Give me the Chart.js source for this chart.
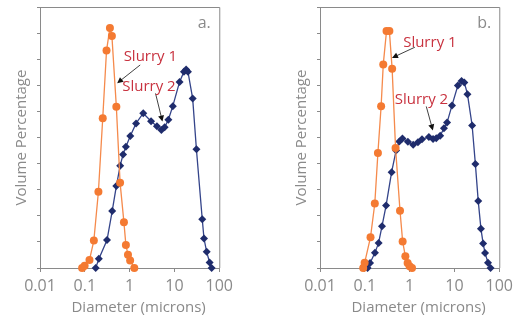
<!DOCTYPE html>
<html>
<head>
<meta charset="utf-8">
<script src="https://cdn.jsdelivr.net/npm/chart.js@4.4.1/dist/chart.umd.min.js"></script>
<style>
  body { margin: 0; background: #fff; }
  #wrap { position: relative; width: 518px; height: 322px; }
  canvas { position: absolute; top: 0; }
</style>
</head>
<body>
<div id="wrap">
  <canvas id="chartA" width="238" height="322" style="left:0"></canvas>
  <canvas id="chartB" width="238" height="322" style="left:280px"></canvas>
</div>
<script>
'use strict';
// axis ticks
const xTicks = [0.01, 0.1, 1, 10, 100];
const xTickLabels = ['0.01', '0.1', '1', '10', '100'];

// panel a - slurry 1
const diamA1 = [0.087, 0.099, 0.127, 0.159, 0.201, 0.251, 0.305, 0.363, 0.402, 0.505, 0.612, 0.746, 0.825, 0.918, 1.026, 1.27];
const volA1 = [0, 0.09, 0.31, 1.05, 2.92, 5.74, 8.33, 9.2, 8.89, 6.18, 3.27, 1.75, 0.88, 0.51, 0.29, 0];
// panel a - slurry 2
const diamA2 = [0.175, 0.205, 0.313, 0.408, 0.505, 0.615, 0.713, 0.825, 1.035, 1.39, 2.01, 3.01, 4.06, 5.10, 6.03, 7.31, 9.18, 13.0, 16.3, 18.2, 20.0, 25.5, 30.9, 41.7, 45.6, 52.3, 60.9, 67.4];
const volA2 = [0, 0.35, 1.07, 2.18, 3.14, 3.92, 4.35, 4.65, 5.06, 5.54, 5.93, 5.62, 5.43, 5.29, 5.39, 5.68, 6.20, 7.13, 7.52, 7.61, 7.52, 6.49, 4.55, 1.87, 1.13, 0.62, 0.21, 0];

// panel b - slurry 1
const diamB1 = [0.092, 0.099, 0.134, 0.167, 0.196, 0.231, 0.258, 0.305, 0.353, 0.407, 0.485, 0.610, 0.698, 0.803, 0.902, 0.998, 1.13];
const volB1 = [0, 0.2, 1.18, 2.47, 4.41, 6.20, 7.80, 9.08, 9.08, 7.63, 4.60, 2.19, 1.02, 0.45, 0.19, 0.07, 0];
// panel b - slurry 2
const diamB2 = [0.115, 0.131, 0.168, 0.203, 0.242, 0.298, 0.396, 0.498, 0.588, 0.690, 0.912, 1.20, 1.53, 1.89, 2.69, 3.33, 3.93, 4.81, 5.82, 6.84, 8.81, 11.9, 14.4, 16.6, 19.5, 24.8, 29.3, 33.9, 39.0, 43.6, 48.2, 56.1, 64.0];
const volB2 = [0, 0.19, 0.58, 0.96, 1.60, 2.39, 3.67, 4.50, 4.85, 4.96, 4.84, 4.72, 4.82, 4.93, 5.02, 4.94, 4.97, 5.07, 5.35, 5.57, 6.23, 6.99, 7.16, 7.11, 6.66, 5.46, 3.98, 2.57, 1.50, 0.94, 0.57, 0.20, 0];

const GREY = '#8a8a8a';
const RED = '#c8323f';
const FONT = '"Open Sans", sans-serif';

//plugin for frame, arrows, labels and x title
const annotPlugin = {
    id: 'annot',
    afterDatasetsDraw(chart, args, opts) {
        const { ctx, chartArea: ca, scales: { x, y } } = chart;
        ctx.save();
        ctx.strokeStyle = GREY;
        ctx.lineWidth = 1;
        ctx.beginPath();
        ctx.moveTo(ca.left, ca.top + 0.5);
        ctx.lineTo(ca.right + 0.5, ca.top + 0.5);
        ctx.lineTo(ca.right + 0.5, ca.bottom);
        ctx.stroke();

        //arrows
        ctx.strokeStyle = '#111';
        ctx.fillStyle = '#111';
        opts.arrows.forEach(a => {
            const x1 = x.getPixelForValue(a.from[0]), y1 = y.getPixelForValue(a.from[1]);
            const x2 = x.getPixelForValue(a.to[0]), y2 = y.getPixelForValue(a.to[1]);
            const ang = Math.atan2(y2 - y1, x2 - x1);
            ctx.lineWidth = 0.8;
            ctx.beginPath();
            ctx.moveTo(x1, y1);
            ctx.lineTo(x2 - 5 * Math.cos(ang), y2 - 5 * Math.sin(ang));
            ctx.stroke();
            ctx.beginPath();
            ctx.moveTo(x2, y2);
            ctx.lineTo(x2 - 6 * Math.cos(ang) + 3 * Math.sin(ang), y2 - 6 * Math.sin(ang) - 3 * Math.cos(ang));
            ctx.lineTo(x2 - 6 * Math.cos(ang) - 3 * Math.sin(ang), y2 - 6 * Math.sin(ang) + 3 * Math.cos(ang));
            ctx.closePath();
            ctx.fill();
        });

        //labels
        ctx.font = '15px ' + FONT;
        ctx.fillStyle = RED;
        ctx.textAlign = 'center';
        ctx.textBaseline = 'middle';
        opts.labels.forEach(l => {
            ctx.fillText(l.text, x.getPixelForValue(l.at[0]), y.getPixelForValue(l.at[1]));
        });

        //panel letter
        ctx.font = '16px ' + FONT;
        ctx.fillStyle = GREY;
        ctx.fillText(opts.letter, ca.right - 15, ca.top + 16);

        //x axis title
        ctx.font = '15px ' + FONT;
        ctx.fillText('Diameter (microns)', (ca.left + ca.right) / 2 + 9, 308);
        ctx.restore();
    }
};

function points(d, v) {
    return d.map((val, i) => ({ x: val, y: v[i] }));
}

//create a panel
function creerChart(id, d1, v1, d2, v2, annot) {
    const ctx = document.getElementById(id).getContext('2d');
    return new Chart(ctx, {
        type: 'line',
        data: {
            datasets: [
                {
                    label: 'Slurry 1', data: points(d1, v1),
                    borderColor: '#f58a4c', backgroundColor: '#f47a32',
                    borderWidth: 1.3, pointStyle: 'circle', pointRadius: 4,
                    pointBorderWidth: 0, tension: 0, clip: false
                },
                {
                    label: 'Slurry 2', data: points(d2, v2),
                    borderColor: '#34448a', backgroundColor: '#1f2c6c',
                    borderWidth: 1.3, pointStyle: 'rectRot', pointRadius: 4,
                    pointBorderWidth: 0, tension: 0, clip: false
                }
            ]
        },
        options: {
            responsive: false,
            animation: false,
            devicePixelRatio: 1,
            layout: { padding: { top: 7, right: 15.5, bottom: 0, left: 0 } },
            plugins: { legend: { display: false }, tooltip: { enabled: false }, annot: annot },
            scales: {
                x: {
                    type: 'logarithmic', min: 0.01, max: 100,
                    afterBuildTicks: s => { s.ticks = xTicks.map(v => ({ value: v })); },
                    afterFit: s => { s.height = 54; },
                    ticks: {
                        color: GREY, font: { family: FONT, size: 16 }, padding: 5,
                        maxRotation: 0, autoSkip: false,
                        callback: v => xTickLabels[xTicks.indexOf(v)]
                    },
                    grid: { drawOnChartArea: false, tickLength: 4, color: GREY },
                    border: { color: GREY }
                },
                y: {
                    min: 0, max: 10,
                    afterFit: s => { s.width = 40; },
                    ticks: { display: false, stepSize: 1 },
                    grid: { drawOnChartArea: false, tickLength: 3, color: GREY },
                    border: { color: GREY },
                    title: {
                        display: true, text: 'Volume Percentage', color: GREY,
                        font: { family: FONT, size: 15 }, padding: { top: 13, bottom: 0 }
                    }
                }
            }
        },
        plugins: [annotPlugin]
    });
}

creerChart('chartA', diamA1, volA1, diamA2, volA2, {
    letter: 'a.',
    labels: [{ text: 'Slurry 1', at: [2.9, 8.08] }, { text: 'Slurry 2', at: [2.69, 6.93] }],
    arrows: [{ from: [1.72, 7.78], to: [0.526, 7.08] }, { from: [3.78, 6.69], to: [5.40, 5.61] }]
});
creerChart('chartB', diamB1, volB1, diamB2, volB2, {
    letter: 'b.',
    labels: [{ text: 'Slurry 1', at: [2.83, 8.65] }, { text: 'Slurry 2', at: [1.83, 6.46] }],
    arrows: [{ from: [1.31, 8.46], to: [0.403, 8.05] }, { from: [2.35, 6.19], to: [3.30, 5.27] }]
});
</script>
</body>
</html>
